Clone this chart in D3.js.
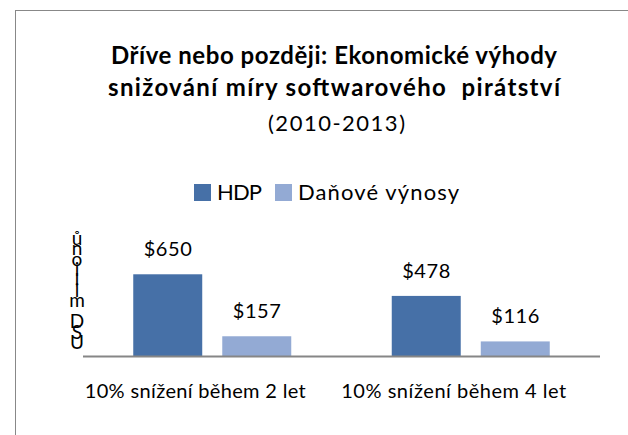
<!DOCTYPE html>
<html><head><meta charset="utf-8">
<script src="https://cdn.jsdelivr.net/npm/d3@7"></script>
<style>body{margin:0;background:#fff}svg{display:block;font-family:Lato,"Open Sans",sans-serif}</style>
</head><body>
<svg id="c" width="628" height="435"></svg>
<script>
const categories = ["10% snížení během 2 let", "10% snížení během 4 let"];
const seriesNames = ["HDP", "Daňové výnosy"];
const hdp = [650, 478];
const dane = [157, 116];
const titleLines = ["Dříve nebo později: Ekonomické výhody", "snižování míry softwarového  pirátství"];
const subtitle = "(2010-2013)";
const yTitle = "USD milionů";
const colors = ["#4670A7", "#93AAD4"];

const svg = d3.select("#c");
svg.append("rect").attr("x",15.5).attr("y",10.5).attr("width",640).attr("height",440)
  .attr("fill","#fff").attr("stroke","#888").attr("stroke-width",1);

const x = d3.scaleBand().domain(categories).range([83,600]);
const xs = d3.scaleBand().domain(seriesNames).range([0,158]).paddingInner(0.225);
const y = d3.scaleLinear().domain([0,700]).range([356,268]);

// title
const titleW = [446, 452];
svg.selectAll("text.t").data(titleLines).join("text").attr("class","t")
  .attr("x",(d,i)=>334-titleW[i]/2).attr("y",(d,i)=>64+i*32)
  .attr("textLength",(d,i)=>titleW[i]).attr("lengthAdjust","spacing")
  .attr("font-size",24).attr("font-weight","bold").attr("fill","#000")
  .style("white-space","pre").text(d=>d);
svg.append("text").attr("x",268).attr("y",131).attr("textLength",137).attr("lengthAdjust","spacing")
  .attr("font-size",22).attr("fill","#000").text(subtitle);

// legend
const legX = [194, 275];
const legW = [45, 161];
const lg = svg.selectAll("g.lg").data(seriesNames).join("g").attr("class","lg")
  .attr("transform",(d,i)=>`translate(${legX[i]},184)`);
lg.append("rect").attr("width",17).attr("height",17).attr("fill",(d,i)=>colors[i]);
lg.append("text").attr("x",23).attr("y",16).attr("font-size",22).attr("fill","#000")
  .attr("textLength",(d,i)=>legW[i]).attr("lengthAdjust","spacing").text(d=>d);

// bars
const data = categories.map((c,i)=>({c, vals:[{s:seriesNames[0],v:hdp[i]},{s:seriesNames[1],v:dane[i]}]}));
const g = svg.selectAll("g.cat").data(data).join("g").attr("class","cat")
  .attr("transform",d=>`translate(${x(d.c)+x.bandwidth()/2-79},0)`);
g.selectAll("rect").data(d=>d.vals).join("rect")
  .attr("x",d=>xs(d.s)).attr("width",xs.bandwidth())
  .attr("y",d=>y(d.v)).attr("height",d=>y(0)-y(d.v))
  .attr("fill",(d,i)=>colors[i]);
g.selectAll("text").data(d=>d.vals).join("text")
  .attr("x",d=>xs(d.s)+xs.bandwidth()/2-24).attr("y",d=>y(d.v)-18)
  .attr("textLength",48).attr("lengthAdjust","spacing")
  .attr("font-size",20).attr("fill","#000")
  .text(d=>"$"+d.v);

// axis line
svg.append("line").attr("x1",83).attr("x2",600).attr("y1",y(0)+0.5).attr("y2",y(0)+0.5)
  .attr("stroke","#868686").attr("stroke-width",2);

// category labels
const catW = [221, 225];
svg.selectAll("text.cl").data(categories).join("text").attr("class","cl")
  .attr("x",(d,i)=>x(d)+x.bandwidth()/2-17-catW[i]/2).attr("y",398)
  .attr("textLength",(d,i)=>catW[i]).attr("lengthAdjust","spacing")
  .attr("font-size",20).attr("fill","#000").text(d=>d);

// stacked y title (bottom to top)
const chars = Array.from(yTitle);
svg.append("text").attr("font-size",19).attr("fill","#000").attr("text-anchor","middle")
  .selectAll("tspan").data(chars).join("tspan")
  .attr("x",77).attr("y",(d,i)=>349-i*10.4).text(d=>d);
</script>
</body></html>
